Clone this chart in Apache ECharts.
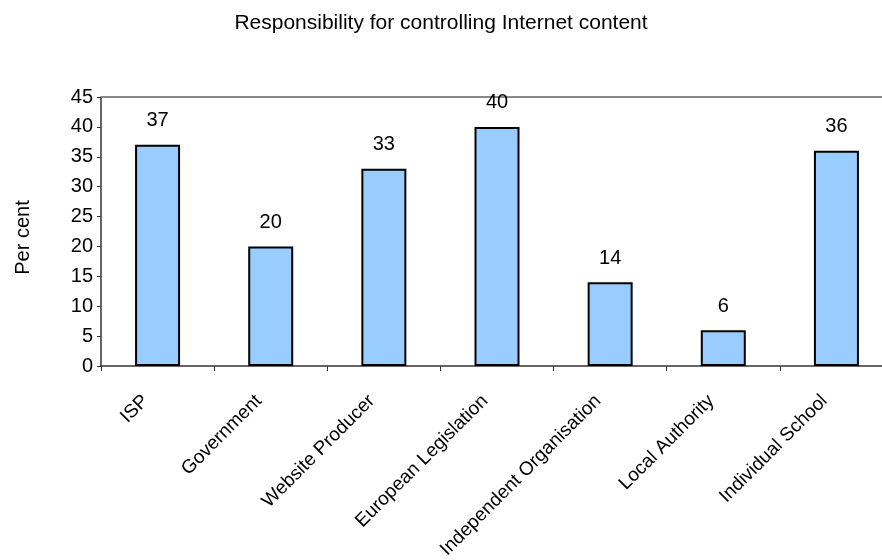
<!DOCTYPE html>
<html>
<head>
<meta charset="utf-8">
<script src="https://cdn.jsdelivr.net/npm/echarts@6/dist/echarts.min.js"></script>
<style>
  html, body { margin: 0; padding: 0; background: #fff; }
  #chart { width: 882px; height: 560px; }
</style>
</head>
<body>
<div id="chart"></div>
<script>
const titleText = 'Responsibility for controlling Internet content';
const categories = ['ISP', 'Government', 'Website Producer', 'European Legislation',
  'Independent Organisation', 'Local Authority', 'Individual School'];
const percentValues = [37, 20, 33, 40, 14, 6, 36];
const yAxisName = 'Per cent';

const FONT = '"Liberation Sans", Arial, sans-serif';
const chart = echarts.init(document.getElementById('chart'), null, { renderer: 'canvas' });

chart.setOption({
  animation: false,
  backgroundColor: '#ffffff',
  title: {
    text: titleText,
    left: 'center',
    top: 8,
    textStyle: { fontFamily: FONT, fontSize: 21, fontWeight: 'normal', color: '#000' }
  },
  grid: {
    left: 101, right: -11, top: 97, bottom: 194,
    containLabel: false, outerBoundsMode: 'none'
  },
  xAxis: [{
    type: 'category',
    data: categories,
    position: 'bottom',
    axisLine: { lineStyle: { color: '#333', width: 1.5 } },
    axisTick: { show: true, length: 5, lineStyle: { color: '#333' } },
    axisLabel: {
      rotate: 45, margin: 20, interval: 0,
      padding: [0, 17, 0, 0],
      fontFamily: FONT, fontSize: 19, color: '#000'
    }
  }, {
    type: 'category',
    data: categories,
    position: 'top',
    axisLine: { lineStyle: { color: '#888', width: 2 } },
    axisTick: { show: false },
    axisLabel: { show: false }
  }],
  yAxis: {
    type: 'value',
    min: 0, max: 45, interval: 5,
    name: yAxisName,
    nameLocation: 'middle',
    nameGap: 68,
    nameTextStyle: { fontFamily: FONT, fontSize: 20, color: '#000', padding: [0, 12, 0, 0] },
    axisLine: { show: true, lineStyle: { color: '#333', width: 1.5 } },
    axisTick: { show: true, length: 4, lineStyle: { color: '#333' } },
    splitLine: { show: false },
    axisLabel: { fontFamily: FONT, fontSize: 20, color: '#000', margin: 8 }
  },
  series: [{
    type: 'bar',
    data: percentValues,
    barWidth: 45,
    itemStyle: { color: '#99ccff', borderColor: '#000', borderWidth: 2 },
    label: {
      show: true, position: 'top', distance: 14,
      fontFamily: FONT, fontSize: 20, color: '#000'
    }
  }]
});
</script>
</body>
</html>
